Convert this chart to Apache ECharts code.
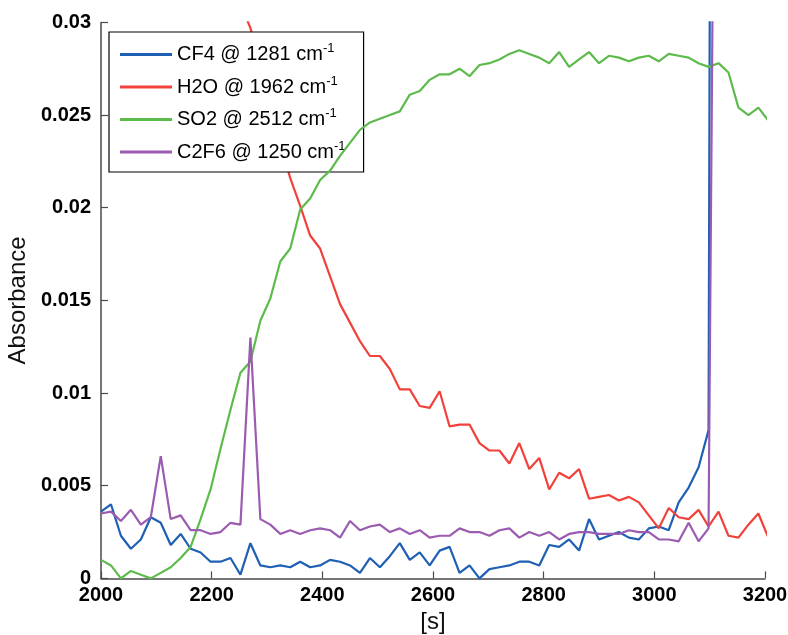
<!DOCTYPE html>
<html>
<head>
<meta charset="utf-8">
<style>
  html, body { margin: 0; padding: 0; background: #ffffff; }
  #chart { width: 788px; height: 635px; }
</style>
<script src="https://cdn.jsdelivr.net/npm/echarts@6/dist/echarts.min.js"></script>
</head>
<body>
<div id="chart"></div>
<script>
// Sample times [s]
const times = [2000, 2018, 2036, 2054, 2072, 2090, 2108, 2126, 2144, 2162,
  2180, 2198, 2216, 2234, 2252, 2270, 2288, 2306, 2324, 2342,
  2360, 2378, 2396, 2414, 2432, 2450, 2468, 2486, 2504, 2522,
  2540, 2558, 2576, 2594, 2612, 2630, 2648, 2666, 2684, 2702,
  2720, 2738, 2756, 2774, 2792, 2810, 2828, 2846, 2864, 2882,
  2900, 2918, 2936, 2954, 2972, 2990, 3008, 3026, 3044, 3062,
  3080, 3098, 3116, 3134, 3152, 3170, 3188, 3206];

// Absorbance, CF4 @ 1281 cm-1
const cf4 = [0.0036, 0.0040, 0.0023, 0.0016, 0.0021, 0.0033, 0.0030, 0.0018, 0.0024, 0.0016,
  0.0014, 0.0009, 0.0009, 0.0011, 0.0002, 0.0019, 0.0007, 0.0006, 0.0007, 0.0006,
  0.0009, 0.0006, 0.0007, 0.0010, 0.0009, 0.0007, 0.0003, 0.0011, 0.0006, 0.0012,
  0.0019, 0.0010, 0.0014, 0.0007, 0.0015, 0.0017, 0.0003, 0.0007, 0.0000, 0.0005,
  0.0006, 0.0007, 0.0009, 0.0009, 0.0007, 0.0018, 0.0017, 0.0021, 0.0015, 0.0032,
  0.0021, 0.0023, 0.0025, 0.0022, 0.0021, 0.0027, 0.0028, 0.0026, 0.0041, 0.0049,
  0.0060, 0.0080, 0.2000, null, null, null, null, null];

// Absorbance, H2O @ 1962 cm-1
const h2o = [null, null, null, null, null, null, null, null, null, null,
  null, null, null, null, 0.0310, 0.0297, 0.0277, 0.0256, 0.0235, 0.0216,
  0.0201, 0.0185, 0.0178, 0.0163, 0.0148, 0.0138, 0.0128, 0.0120, 0.0120, 0.0113,
  0.0102, 0.0102, 0.0093, 0.0092, 0.0101, 0.0082, 0.0083, 0.0083, 0.0073, 0.0069,
  0.0069, 0.0062, 0.0073, 0.0059, 0.0065, 0.0048, 0.0057, 0.0054, 0.0059, 0.0043,
  0.0044, 0.0045, 0.0042, 0.0044, 0.0041, 0.0034, 0.0027, 0.0038, 0.0033, 0.0032,
  0.0037, 0.0028, 0.0036, 0.0023, 0.0022, 0.0029, 0.0035, 0.0022];

// Absorbance, SO2 @ 2512 cm-1
const so2 = [0.0010, 0.0007, 0.0000, 0.0004, 0.0002, 0.0000, 0.0003, 0.0006, 0.0011, 0.0017,
  0.0032, 0.0048, 0.0070, 0.0091, 0.0111, 0.0117, 0.0139, 0.0151, 0.0171, 0.0178,
  0.0199, 0.0205, 0.0215, 0.0220, 0.0228, 0.0235, 0.0242, 0.0246, 0.0248, 0.0250,
  0.0252, 0.0261, 0.0263, 0.0269, 0.0272, 0.0272, 0.0275, 0.0271, 0.0277, 0.0278,
  0.0280, 0.0283, 0.0285, 0.0283, 0.0281, 0.0278, 0.0284, 0.0276, 0.0280, 0.0284,
  0.0278, 0.0282, 0.0281, 0.0279, 0.0281, 0.0282, 0.0279, 0.0283, 0.0282, 0.0281,
  0.0278, 0.0276, 0.0278, 0.0273, 0.0254, 0.0250, 0.0254, 0.0247];

// Absorbance, C2F6 @ 1250 cm-1
const c2f6 = [0.0035, 0.0036, 0.0031, 0.0037, 0.0029, 0.0033, 0.0066, 0.0032, 0.0034, 0.0026,
  0.0026, 0.0024, 0.0025, 0.0030, 0.0029, 0.0130, 0.0032, 0.0029, 0.0024, 0.0026,
  0.0024, 0.0026, 0.0027, 0.0026, 0.0022, 0.0031, 0.0026, 0.0028, 0.0029, 0.0025,
  0.0027, 0.0024, 0.0026, 0.0022, 0.0023, 0.0023, 0.0027, 0.0025, 0.0025, 0.0023,
  0.0026, 0.0027, 0.0022, 0.0025, 0.0023, 0.0025, 0.0021, 0.0024, 0.0025, 0.0025,
  0.0024, 0.0024, 0.0024, 0.0026, 0.0025, 0.0025, 0.0021, 0.0021, 0.0020, 0.0030,
  0.0020, 0.0027, 0.0730, null, null, null, null, null];

const seriesNames = ['CF4 @ 1281 cm', 'H2O @ 1962 cm', 'SO2 @ 2512 cm', 'C2F6 @ 1250 cm'];
const seriesColors = ['#1f5fb4', '#f2413b', '#5dbb4c', '#9a5bb0'];
const seriesValues = [cf4, h2o, so2, c2f6];

const xTicks = { min: 2000, max: 3200, step: 200 };
const yTicks = { min: 0, max: 0.03, step: 0.005 };

const FONT = '"Liberation Sans", Arial, Helvetica, sans-serif';

function pairs(values) {
  return times.map((t, i) => [t, values[i]]);
}

const chart = echarts.init(document.getElementById('chart'), null, { renderer: 'canvas' });

const axisLine = { show: true, lineStyle: { color: '#4a4a4a', width: 1.5 } };

chart.setOption({
  animation: false,
  backgroundColor: '#ffffff',
  grid: { left: 101, right: 23, top: 22.4, bottom: 56.6, containLabel: false, outerBoundsMode: 'none' },
  xAxis: {
    type: 'value',
    min: xTicks.min, max: xTicks.max, interval: xTicks.step,
    name: '[s]', nameLocation: 'middle', nameGap: 30,
    nameTextStyle: { fontFamily: FONT, fontSize: 24, color: '#111' },
    axisLine: axisLine,
    axisTick: { show: true, inside: true, length: 7, lineStyle: { color: '#4a4a4a', width: 1.2 } },
    axisLabel: { fontFamily: FONT, fontSize: 20, fontWeight: 'bold', color: '#000', margin: 7,
      formatter: v => String(v) },
    splitLine: { show: false }
  },
  yAxis: {
    type: 'value',
    min: yTicks.min, max: yTicks.max, interval: yTicks.step,
    name: 'Absorbance', nameLocation: 'middle', nameGap: 68,
    nameTextStyle: { fontFamily: FONT, fontSize: 24, color: '#111' },
    axisLine: axisLine,
    axisTick: { show: true, inside: true, length: 7, lineStyle: { color: '#4a4a4a', width: 1.2 } },
    axisLabel: { fontFamily: FONT, fontSize: 20, fontWeight: 'bold', color: '#000', margin: 10 },
    splitLine: { show: false }
  },
  legend: {
    orient: 'vertical',
    left: 109, top: 32,
    padding: [10, 18, 10, 11],
    itemGap: 10,
    itemWidth: 52, itemHeight: 3,
    icon: 'rect',
    backgroundColor: '#ffffff',
    borderColor: '#000000', borderWidth: 1.2,
    data: seriesNames,
    formatter: name => name + '{sup|-1}',
    textStyle: {
      fontFamily: FONT, fontSize: 20, color: '#000',
      rich: { sup: { fontFamily: FONT, fontSize: 13, color: '#000', verticalAlign: 'top', padding: [0, 0, 12, 0] } }
    }
  },
  series: seriesNames.map((n, i) => ({
    name: n,
    type: 'line',
    data: pairs(seriesValues[i]),
    symbol: 'none',
    showSymbol: false,
    clip: true,
    connectNulls: false,
    color: seriesColors[i],
    lineStyle: { color: seriesColors[i], width: 2.2 },
    z: 2 + i
  }))
});
</script>
</body>
</html>
